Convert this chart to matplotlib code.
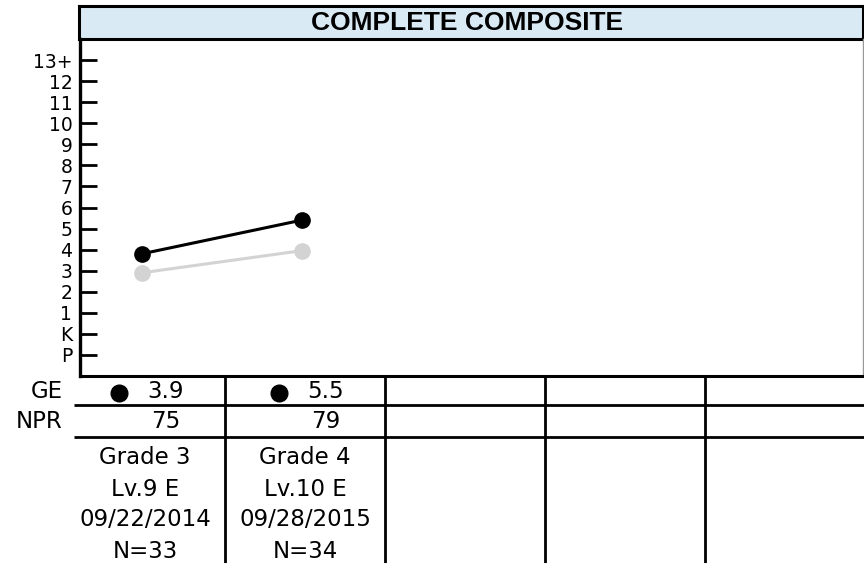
import matplotlib.pyplot as plt
import numpy as np

# data
title = 'COMPLETE COMPOSITE'
y_labels = ['P', 'K', '1', '2', '3', '4', '5', '6', '7', '8', '9', '10', '11', '12', '13+']
y_values = list(range(-1, 14))          # P=-1, K=0, grade n = n, 13+ = 13
n_columns = 5
test_cols = [0, 1]
black_line = [3.8, 5.4]
gray_line = [2.9, 3.95]
ge = ['3.9', '5.5']
npr = ['75', '79']
grades = ['Grade 3', 'Grade 4']
levels = ['Lv.9 E', 'Lv.10 E']
dates = ['09/22/2014', '09/28/2015']
n_counts = [33, 34]

W, H = 864, 563
fig = plt.figure(figsize=(W / 100, H / 100), dpi=100)
plt.rcParams['font.family'] = ['DejaVu Sans']

col0 = 65     # pixel left of first column
colw = 160    # pixel width of a column
def cx(px):
    return (px - col0) / colw

# title box
ax_t = fig.add_axes([79 / W, 1 - 39 / H, (863 - 79) / W, (39 - 6) / H])
ax_t.set_facecolor('#daeaf5')
ax_t.set_xticks([])
ax_t.set_yticks([])
for s in ax_t.spines.values():
    s.set_linewidth(2.2)
    s.set_color('black')
ax_t.text(0.495, 0.48, title, ha='center', va='center', fontsize=19,
          fontweight='bold', family='Liberation Sans', transform=ax_t.transAxes)

# table area below the plot
ax_tab = fig.add_axes([0, 0, 1, (H - 376) / H], zorder=0)
ax_tab.set_xlim(cx(0), cx(W))
ax_tab.set_ylim(H - 376, 0)
ax_tab.axis('off')
row_ge, row_npr = 29, 61
ax_tab.hlines([row_ge, row_npr], cx(74), cx(W), color='black', lw=2)
ax_tab.vlines(np.arange(1, n_columns), 0, H - 376, color='black', lw=2)
fs = 16.5
ax_tab.text(cx(63), 16, 'GE', ha='right', va='center', fontsize=fs)
ax_tab.text(cx(63), 46, 'NPR', ha='right', va='center', fontsize=fs)
for i, c in enumerate(test_cols):
    ax_tab.plot(c + 0.335, 17, 'o', color='black', ms=12)
    ax_tab.text(c + 0.63, 16, ge[i], ha='center', va='center', fontsize=fs)
    ax_tab.text(c + 0.63, 46, npr[i], ha='center', va='center', fontsize=fs)
    info = [grades[i], levels[i], dates[i], 'N=' + str(n_counts[i])]
    for j, t in enumerate(info):
        ax_tab.text(c + 0.5, 82 + 31 * j, t, ha='center', va='center', fontsize=fs)

# plot area
ax = fig.add_axes([80 / W, 1 - 376 / H, (863 - 80) / W, (376 - 39) / H], zorder=2)
ax.set_xlim(cx(80), cx(863))
ax.set_ylim(-2, 14)
ax.set_facecolor('none')
xs = [c + 0.48 for c in test_cols]
ax.plot(xs, gray_line, '-o', color='#d3d3d3', lw=2.2, ms=11, zorder=3)
ax.plot(xs, black_line, '-o', color='black', lw=2.2, ms=11, zorder=4)
ax.set_yticks(y_values)
ax.set_yticklabels(y_labels)
ax.set_xticks([])
ax.tick_params(axis='y', direction='in', length=12, width=2, pad=5.5, labelsize=13.5)
ax.spines['top'].set_visible(False)
ax.spines['left'].set_linewidth(2.4)
ax.spines['bottom'].set_linewidth(2.2)
ax.spines['right'].set_linewidth(1)
ax.spines['right'].set_color('#999999')

fig.savefig('out.png', dpi=100)
